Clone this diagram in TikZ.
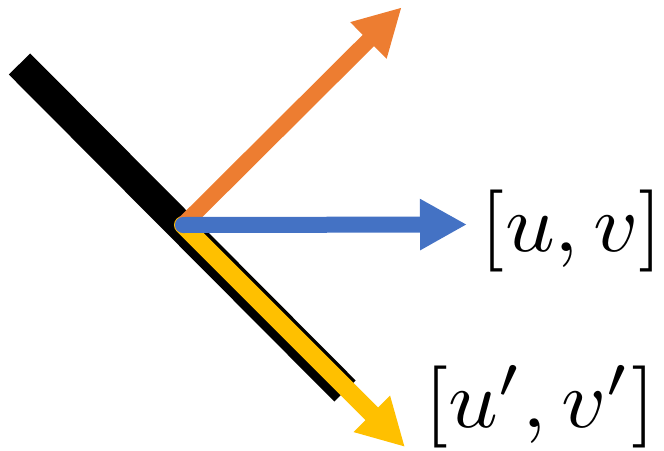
\documentclass[tikz,border=0pt]{standalone}
\usepackage{graphicx}
\usetikzlibrary{arrows.meta}
\definecolor{myorange}{RGB}{237,125,49}
\definecolor{myblue}{RGB}{68,114,196}
\definecolor{myyellow}{RGB}{255,192,0}
\tikzset{
  vec/.style={line width=16pt, line cap=round, -{Triangle[length=47pt,width=48pt]}},
  lbl/.style={inner sep=0pt}
}
\begin{document}
\begin{tikzpicture}[x=1pt,y=-1pt]
\useasboundingbox (0,0) rectangle (664,450);
\coordinate (b1) at (19.5,64);
\coordinate (b2) at (345,391);
\coordinate (o) at (183,225);
\coordinate (oy) at (183,225);
\coordinate (to) at (401.7,7.3);
\coordinate (tb) at (467,224.5);
\coordinate (ty) at (405,447);
\draw[line width=30pt, black] (b1) -- (b2);
\draw[vec, myyellow, line width=18pt] (oy) -- (ty);
\draw[vec, myorange] (o) -- (to);
\draw[vec, myblue] (o) -- (tb);
\node[lbl] (l1) at (572,231) {\scalebox{8.7}[8.2]{$[u,v]$}};
\node[lbl] (l2) at (540,407) {\scalebox{8.7}[8.2]{$[u',v']$}};
\end{tikzpicture}
\end{document}
